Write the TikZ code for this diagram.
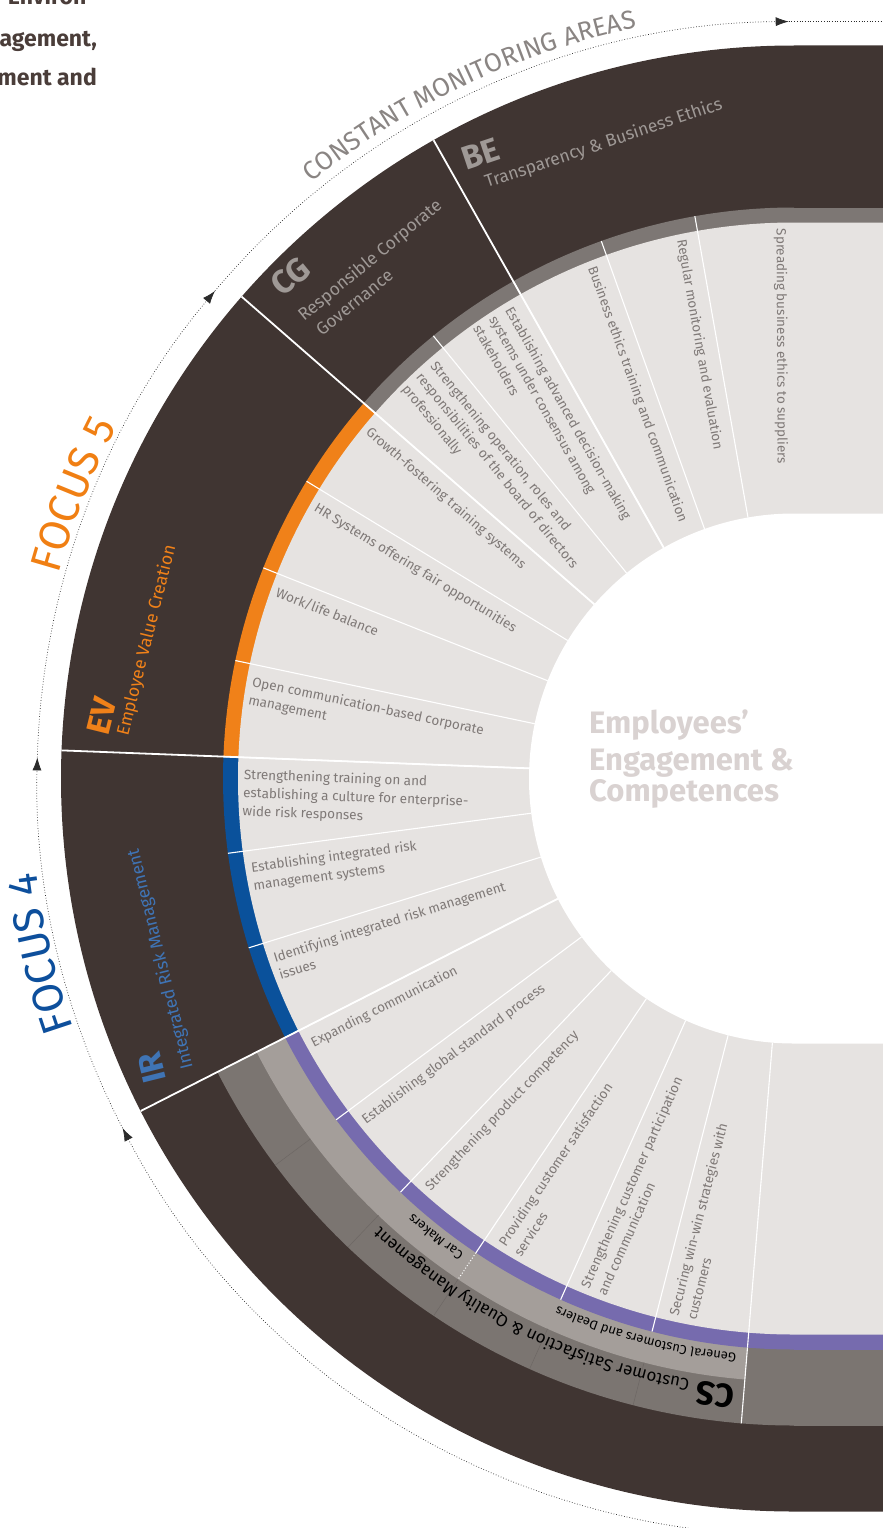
\documentclass[tikz,border=0pt]{standalone}
\usepackage{fontspec}
\setmainfont{Fira Sans}
\usetikzlibrary{calc,decorations.text,arrows.meta}
\definecolor{darkb}{HTML}{403532}
\definecolor{segbg}{HTML}{E6E3E1}
\definecolor{stripg}{HTML}{7D7774}
\definecolor{csmed}{HTML}{7B7571}
\definecolor{cslight}{HTML}{A49E9A}
\definecolor{evor}{HTML}{F08119}
\definecolor{irbl}{HTML}{0A519B}
\definecolor{cspu}{HTML}{766BAE}
\definecolor{segtxt}{HTML}{7F7977}
\definecolor{labg}{HTML}{9F9996}
\definecolor{irtxt}{HTML}{3F74B5}
\definecolor{centtxt}{HTML}{D9D2D1}
\definecolor{focor}{HTML}{F07F13}
\definecolor{focbl}{HTML}{0D4F9C}
\definecolor{monig}{HTML}{8A8583}
\definecolor{cornertxt}{HTML}{4A3D39}
\definecolor{faint}{HTML}{6D6764}
\definecolor{dotc}{HTML}{2B2B2B}
\newcommand\stad[2]{\fill[#1] ($(C)+(90:#2)$) arc[start angle=90,end angle=270,radius=#2] -- ++(120,0) -- ++(0,{2*#2}) -- cycle;}
\newcommand\piesec[4]{\fill[#1] (C) -- ($(C)+(#2:#4)$) arc[start angle=#2,end angle=#3,radius=#4] -- cycle;}
\newcommand\segtext[4]{\pgfmathsetmacro\sgang{100+9.725*#2}\node[segtext,rotate=\sgang+180] (#1) at ($(C)+(\sgang:550)+(\sgang+90:#3)$) {#4};}
\begin{document}
\begin{tikzpicture}[x=1pt,y=1pt,
 segtext/.style={font=\fontsize{13.5}{18.3}\selectfont, text=segtxt, align=left, inner sep=0pt, anchor=north west},
 segline/.style={white, line width=1.1pt},
 secline/.style={white, line width=1.8pt},
 abbr/.style={font=\fontsize{33}{33}\selectfont\bfseries, inner sep=0pt, anchor=base west},
 desc/.style={font=\fontsize{17.5}{17.5}\selectfont, inner sep=0pt, anchor=base west},
 dotarc/.style={dotc, dotted, line width=0.7pt},
 tip/.style={-{Latex[length=13pt,width=9pt]}},
 cornerstyle/.style={font=\fontsize{23}{23}\selectfont\bfseries, text=cornertxt, inner sep=0pt, anchor=base east},
 centstyle/.style={font=\fontsize{31}{31}\selectfont\bfseries, text=centtxt, inner sep=0pt, anchor=base west}]
\useasboundingbox (0,0) rectangle (883,-1528);
\coordinate (C) at (794,-778.5);
% rings
\stad{darkb}{733}
\piesec{csmed}{206.975}{270}{647}
\fill[csmed] (C) rectangle ++(120,-647);
\piesec{cslight}{206.975}{265.325}{603}
\piesec{stripg}{90}{138.9}{571}
\fill[stripg] (C) rectangle ++(120,571);
\piesec{evor}{138.9}{177.8}{571}
\piesec{irbl}{177.8}{206.975}{571}
\piesec{cspu}{206.975}{270}{571}
\fill[cspu] (C) rectangle ++(120,-571);
\stad{segbg}{556}
\stad{white}{265}
% lines
\foreach \k in {0,...,17}{\draw[segline] ($(C)+({100+9.725*\k}:265)$) -- ($(C)+({100+9.725*\k}:571)$);}
\foreach \k in {2,4,8,11}{\draw[secline] ($(C)+({100+9.725*\k}:265)$) -- ($(C)+({100+9.725*\k}:733)$);}
\draw[segline] ($(C)+(265.325:571)$) -- ($(C)+(265.325:647)$);
\draw[white, line width=1pt, dotted] ($(C)+(236.15:571)$) -- ($(C)+(236.15:603)$);
\foreach \k in {12,...,16}{\draw[faint, line width=0.5pt] ($(C)+({100+9.725*\k}:603)$) -- ($(C)+({100+9.725*\k}:647)$);}
% segment texts
\segtext{t1}{-1}{4}{Spreading business ethics to suppliers}
\segtext{t2}{0}{11}{Regular monitoring and evaluation}
\segtext{t3}{1}{11}{Business ethics training and communication}
\segtext{t4}{2}{11}{Establishing advanced decision-making\\systems under consensus among\\stakeholders}
\segtext{t5}{3}{11}{Strengthening operation, roles and\\responsibilities of the board of directors\\professionally}
\segtext{t6}{4}{11}{Growth-fostering training systems}
\segtext{t7}{5}{11}{HR Systems offering fair opportunities}
\segtext{t8}{6}{11}{Work/life balance}
\segtext{t9}{7}{11}{Open communication-based corporate\\management}
\segtext{t10}{8}{11}{Strengthening training on and\\establishing a culture for enterprise-\\wide risk responses}
\segtext{t11}{9}{11}{Establishing integrated risk\\management systems}
\segtext{t12}{10}{11}{Identifying integrated risk management\\issues}
\segtext{t13}{11}{11}{Expanding communication}
\segtext{t14}{12}{11}{Establishing global standard process}
\segtext{t15}{13}{11}{Strengthening product competency}
\segtext{t16}{14}{11}{Providing customer satisfaction\\services}
\segtext{t17}{15}{11}{Strengthening customer participation\\and communication}
\segtext{t18}{16}{11}{Securing win-win strategies with\\customers}
% sector labels
\node[abbr, text=labg, rotate=18.5] (be) at (466,-171) {BE};
\node[desc, text=labg, rotate=18.5] (bed) at (487,-188) {Transparency \& Business Ethics};
\node[abbr, text=labg, rotate=39.5] (cg) at (282,-298) {CG};
\node[desc, text=labg, rotate=39.5] (cgd1) at (304,-322) {Responsible Corporate};
\node[desc, text=labg, rotate=39.5] (cgd2) at (322,-337) {Governance};
\node[abbr, text=evor, rotate=76] (ev) at (108.5,-737) {EV};
\node[desc, text=evor, rotate=76] (evd) at (128,-737) {Employee Value Creation};
\node[abbr, text=irtxt, rotate=104] (ir) at (167,-1080) {IR};
\node[desc, text=irtxt, rotate=104] (ird) at (193,-1068) {Integrated Risk Management};
% CS arc labels
\path[decorate, decoration={text along path, text align=left, text color=black, text={|\fontsize{13}{13}\selectfont|General Customers and Dealers}}] ($(C)+(264.3:578)$) arc[start angle=264.3, end angle=225, radius=578];
\path[decorate, decoration={text along path, text align=left, text color=black, text={|\fontsize{13}{13}\selectfont|Car Makers}}] ($(C)+(235.2:578)$) arc[start angle=235.2, end angle=210, radius=578];
\path[decorate, decoration={text along path, text align=left, text color=black, text={|\fontsize{33}{33}\selectfont\bfseries|CS |\fontsize{17}{17}\selectfont\mdseries|Customer Satisfaction {\&} Quality Management}}] ($(C)+(264.5:610)$) arc[start angle=264.5, end angle=212, radius=610];
% outer arc texts
\path[decorate, decoration={text along path, text align=center, text color=monig, text={|\fontsize{26}{26}\selectfont|CONSTANT MONITORING AREAS}}] ($(C)+(135.4:767)$) arc[start angle=135.4,end angle=95.4,radius=767];
\path[decorate, decoration={text along path, text align=center, text color=focor, text={|\fontsize{43}{43}\selectfont|FOCUS 5}}] ($(C)+(175:763)$) arc[start angle=175,end angle=142,radius=763];
\path[decorate, decoration={text along path, text align=center, text color=focbl, text={|\fontsize{43}{43}\selectfont|FOCUS 4}}] ($(C)+(209.8:763)$) arc[start angle=209.8,end angle=176.4,radius=763];
% dotted circle with arrows
\coordinate (d0) at ($(C)+(90.4:757)$);
\draw[dotarc] (d0) -- ++(120,0);
\draw[dotarc, tip] ($(C)+(139.9:757)$) arc[start angle=139.9,end angle=90.4,radius=757];
\draw[dotarc, tip] ($(C)+(178.4:757)$) arc[start angle=178.4,end angle=139.9,radius=757];
\draw[dotarc, tip] ($(C)+(207.5:757)$) arc[start angle=207.5,end angle=178.4,radius=757];
\draw[dotarc, tip] ($(C)+(272:757)$) arc[start angle=272,end angle=207.5,radius=757];
% center text
\node[centstyle] (ct1) at (589,-733.3) {Employees’};
\node[centstyle] (ct2) at (589,-770) {Engagement \&};
\node[centstyle] (ct3) at (589,-801.7) {Competences};
% corner text
\node[cornerstyle] (tl1) at (96,-5) {Environ-};
\node[cornerstyle] (tl2) at (97,-46.7) {agement,};
\node[cornerstyle] (tl3) at (97,-85) {ment and};
\end{tikzpicture}
\end{document}
